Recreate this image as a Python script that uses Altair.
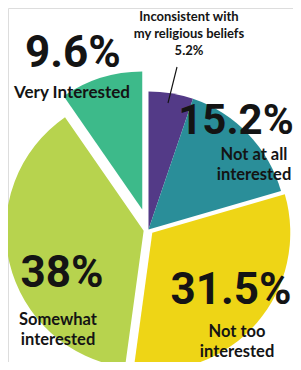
import altair as alt
import pandas as pd

# ---- data ----
categories = [
    "Inconsistent with my religious beliefs",
    "Not at all interested",
    "Not too interested",
    "Somewhat interested",
    "Very Interested",
]
values = [5.2, 15.2, 31.5, 38.0, 9.6]
label_lines = [
    ["Inconsistent with", "my religious beliefs"],
    ["Not at all", "interested"],
    ["Not too", "interested"],
    ["Somewhat", "interested"],
    ["Very Interested"],
]

# ---- style ----
colors = ["#533a87", "#2a8e99", "#eed516", "#b7d34e", "#3dba8a"]
explode = [0, 0, 5, 5, 21]
CX, CY, R = 140.5, 221.5, 138
BIG_FONT = "Roboto"
SMALL_FONT = "Lato"
INK = "#141414"

df = pd.DataFrame({
    "category": categories,
    "value": values,
    "order": list(range(len(values))),
    "explode": explode,
})

pie = (
    alt.Chart(df)
    .transform_window(cum="sum(value)", sort=[alt.SortField("order")], frame=[None, 0])
    .transform_joinaggregate(total="sum(value)")
    .transform_calculate(
        t0="(datum.cum - datum.value) / datum.total * 2 * PI",
        t1="datum.cum / datum.total * 2 * PI",
    )
    .transform_calculate(mid="(datum.t0 + datum.t1) / 2")
    .transform_calculate(
        px=f"{CX} + datum.explode * sin(datum.mid)",
        py=f"{CY} - datum.explode * cos(datum.mid)",
    )
    .mark_arc(radius=R, strokeWidth=0)
    .encode(
        theta=alt.Theta("t0:Q", scale=None, stack=None),
        theta2="t1:Q",
        x=alt.X("px:Q", scale=None, axis=None),
        y=alt.Y("py:Q", scale=None, axis=None),
        color=alt.Color("category:N", scale=alt.Scale(domain=categories, range=colors), legend=None),
    )
)


def pct(v):
    return f"{v:g}%"


def txt(s, x, y, size, font, weight="bold"):
    return (
        alt.Chart(pd.DataFrame({"t": [s]}))
        .mark_text(font=font, fontSize=size, fontWeight=weight, color=INK,
                   align="center", baseline="alphabetic")
        .encode(text="t:N", x=alt.value(x), y=alt.value(y))
    )


layers = [pie]
BIG = 44
LBL = 16.5
# Very Interested
layers.append(txt(pct(values[4]), 65, 59, BIG, BIG_FONT))
layers.append(txt(label_lines[4][0], 64, 90, 17, SMALL_FONT))
# Inconsistent
layers.append(txt(label_lines[0][0], 181, 13, 13, SMALL_FONT))
layers.append(txt(label_lines[0][1], 181, 30, 13, SMALL_FONT))
layers.append(txt(pct(values[0]), 181, 47, 13, SMALL_FONT))
layers.append(
    alt.Chart(pd.DataFrame({"a": [0]}))
    .mark_rule(color=INK, strokeWidth=1.2)
    .encode(x=alt.value(169), y=alt.value(59), x2=alt.value(160), y2=alt.value(95))
)
# Not at all
layers.append(txt(pct(values[1]), 228, 126, 42, BIG_FONT))
layers.append(txt(label_lines[1][0], 246, 152, LBL, SMALL_FONT))
layers.append(txt(label_lines[1][1], 246, 172, LBL, SMALL_FONT))
# Somewhat
layers.append(txt(pct(values[3]), 54, 279, BIG, BIG_FONT))
layers.append(txt(label_lines[3][0], 50, 317, LBL, SMALL_FONT))
layers.append(txt(label_lines[3][1], 50, 337, LBL, SMALL_FONT))
# Not too
layers.append(txt(pct(values[2]), 223, 296, BIG, BIG_FONT))
layers.append(txt(label_lines[2][0], 229, 329, LBL, SMALL_FONT))
layers.append(txt(label_lines[2][1], 229, 349, LBL, SMALL_FONT))

chart = (
    alt.layer(*layers)
    .properties(width=285, height=354, padding=0, autosize=alt.AutoSizeParams(type="none"))
    .configure_view(stroke=None)
    .configure(background="white")
)

chart.save("out.html", embed_options={"renderer": "svg", "actions": False})
